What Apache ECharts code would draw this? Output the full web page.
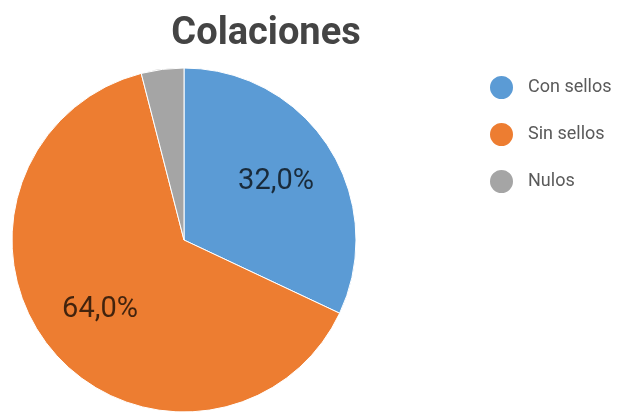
<!DOCTYPE html>
<html>
<head>
<meta charset="utf-8">
<script src="https://cdn.jsdelivr.net/npm/echarts@6/dist/echarts.min.js"></script>
<style>
  html, body { margin: 0; padding: 0; background: #fff; }
  #chart { width: 619px; height: 413px; }
</style>
</head>
<body>
<div id="chart"></div>
<script>
// Meal-type shares
const categories = ['Con sellos', 'Sin sellos', 'Nulos'];
const shares = [32, 64, 4];
const sliceColors = ['#5b9bd5', '#ed7d31', '#a5a5a5'];
const labelled = [true, true, false];

const fmt = v => v.toFixed(1).replace('.', ',') + '%';

const pieData = categories.map((name, i) => ({
  name,
  value: shares[i],
  itemStyle: { color: sliceColors[i] }
}));

// Transparent twin pie, twice the label radius, so the "inside" labels sit further out
const labelData = categories.map((name, i) => ({
  name,
  value: shares[i],
  label: { show: labelled[i] }
}));

const chart = echarts.init(document.getElementById('chart'), null, { renderer: 'canvas' });
chart.setOption({
  animation: false,
  title: {
    text: 'Colaciones',
    left: 261,
    top: 10,
    textAlign: 'center',
    textStyle: { fontFamily: 'Roboto', fontWeight: 'bold', fontSize: 38, color: '#444' }
  },
  legend: {
    orient: 'vertical',
    left: 483,
    top: 69,
    icon: 'circle',
    itemWidth: 25,
    itemHeight: 25,
    itemGap: 20,
    data: categories,
    textStyle: { fontFamily: 'Roboto', fontSize: 18, color: '#5a5a5a', padding: [0, 0, 0, 9] }
  },
  series: [
    {
      type: 'pie',
      center: [184, 240],
      radius: [0, 172],
      startAngle: 90,
      clockwise: true,
      data: pieData,
      label: { show: false },
      labelLine: { show: false },
      itemStyle: { borderColor: '#fff', borderWidth: 1 },
      emphasis: { disabled: true }
    },
    {
      type: 'pie',
      center: [184, 240],
      radius: [0, 212],
      startAngle: 90,
      clockwise: true,
      silent: true,
      data: labelData,
      itemStyle: { color: 'rgba(0,0,0,0)' },
      label: {
        position: 'inside',
        formatter: p => fmt(p.value),
        fontFamily: 'Roboto',
        fontSize: 29,
        color: 'rgba(0,0,0,0.72)',
        textBorderWidth: 0
      },
      labelLine: { show: false },
      emphasis: { disabled: true }
    }
  ]
});
</script>
</body>
</html>
